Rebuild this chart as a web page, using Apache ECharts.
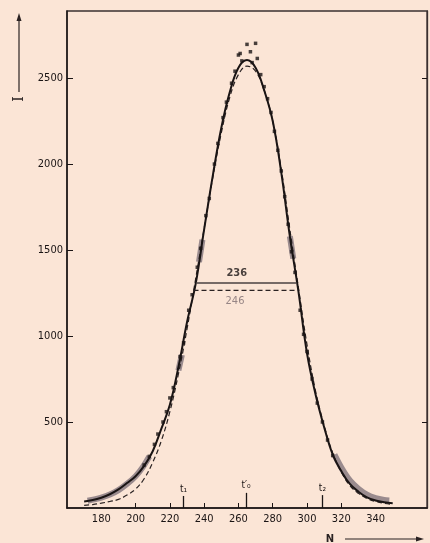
<html>
<head>
<meta charset="utf-8">
<script src="https://cdn.jsdelivr.net/npm/echarts@6/dist/echarts.min.js"></script>
<style>
  html, body { margin: 0; padding: 0; background: #fbe5d6; }
</style>
</head>
<body>
<div id="main" style="width: 430px; height: 543px;"></div>
<script type="text/javascript">
// channel numbers for the fit curves
var fitN = [170, 175, 180, 185, 190, 195, 200, 205, 210, 215, 220, 225, 230, 235, 240, 245, 250, 255, 260, 265,
            270, 275, 280, 285, 290, 295, 300, 305, 310, 315, 320, 325, 330, 335, 340, 345, 350];
// solid fit
var solidI = [38, 46, 60, 80, 108, 145, 185, 245, 330, 460, 600, 820, 1080, 1300, 1620, 1930, 2210, 2420, 2560, 2605,
              2560, 2430, 2250, 1950, 1580, 1260, 900, 660, 470, 310, 215, 140, 95, 62, 44, 34, 28];
// dashed fit
var dashedI = [15, 20, 28, 38, 50, 75, 110, 170, 265, 390, 560, 780, 1040, 1330, 1625, 1920, 2180, 2390, 2520, 2570,
               2540, 2430, 2250, 1970, 1620, 1280, 950, 680, 480, 320, 210, 130, 85, 55, 38, 27, 20];

// measured points (N, I)
var pointsN = [205, 208, 211, 213, 216, 218, 220, 222, 226, 228, 231, 233, 236, 238, 241, 243, 246, 248, 251, 253,
               256, 258, 260, 261, 262, 265, 267, 270, 271, 268, 273, 275, 277, 279, 281, 283, 285, 287, 289, 291,
               293, 296, 298, 300, 303, 306, 309, 312, 315];
var pointsI = [250, 300, 370, 430, 500, 560, 640, 700, 880, 960, 1150, 1240, 1400, 1510, 1700, 1800, 2000, 2120, 2270, 2360,
               2470, 2540, 2634, 2643, 2600, 2696, 2653, 2702, 2614, 2590, 2520, 2450, 2380, 2300, 2190, 2080, 1960, 1810, 1650, 1490,
               1370, 1150, 1010, 910, 750, 610, 500, 395, 305];

// grey smear along the tails and a few flank spots (null breaks segments)
var smearN = [172, 176, 180, 185, 190, 195, 200, 204, 208, null, 225, 227, null, 237, 239, null, 290, 292, null,
              316, 320, 325, 330, 335, 340, 345, 348];
var smearI = [42, 50, 60, 78, 104, 140, 185, 235, 300, null, 800, 890, null, 1430, 1560, null, 1580, 1450, null,
              310, 235, 160, 112, 78, 58, 47, 44];

// half-width lines
var halfSolidN = [235.3, 294], halfSolidI = 1308;
var halfDashedN = [233.8, 294.6], halfDashedI = 1265;
var halfLabels = ['236', '246'];
var halfLabelN = [259, 258];
var halfLabelI = [1365, 1205];

// channel markers on the axis
var markN = [228, 264.5, 309];
var markH = [70, 88, 75];
var markText = ['t\u2081', 't\u2032\u2080', 't\u2082'];

// tick labels
var xLabels = [180, 200, 220, 240, 260, 280, 300, 320, 340];
var xTicks = [200, 220, 240, 260, 280, 300, 320];
var yLabels = [500, 1000, 1500, 2000, 2500];

function pairs(xs, ys) {
    var out = [];
    for (var i = 0; i < xs.length; i++) {
        out.push(xs[i] === null ? [null, null] : [xs[i], ys[i]]);
    }
    return out;
}

var ink = '#1a1414';
var font = 'DejaVu Sans Condensed, DejaVu Sans, sans-serif';

var myChart = echarts.init(document.getElementById('main'));

var markLines = [];
for (var i = 0; i < markN.length; i++) {
    markLines.push([
        { coord: [markN[i], 0] },
        { coord: [markN[i], markH[i]], label: { formatter: markText[i] } }
    ]);
}

myChart.setOption({
    backgroundColor: '#fbe5d6',
    animation: false,
    grid: { left: 67, right: 3, top: 11, bottom: 35, show: true, borderColor: '#3a3030', borderWidth: 1.3 },
    xAxis: {
        type: 'value', min: 160, max: 370,
        axisLine: { lineStyle: { color: ink, width: 1.5 } },
        axisTick: { inside: true, length: 5, customValues: xTicks, lineStyle: { color: ink } },
        axisLabel: { customValues: xLabels, color: ink, fontSize: 11, fontFamily: font, margin: 6,
                     formatter: function (v) { return String(v); } },
        splitLine: { show: false }
    },
    yAxis: [{
        type: 'value', min: 0, max: 2890,
        axisLine: { show: true, lineStyle: { color: ink, width: 1.5 } },
        axisTick: { show: true, inside: true, length: 6, customValues: yLabels, lineStyle: { color: ink } },
        axisLabel: { customValues: yLabels, color: ink, fontSize: 11, fontFamily: font, margin: 4,
                     formatter: function (v) { return String(v); } },
        splitLine: { show: false }
    }, {
        type: 'value', min: 0, max: 2890, position: 'right',
        axisLine: { show: true, lineStyle: { color: '#3a3030', width: 1.3 } },
        axisTick: { show: true, inside: true, length: 5, customValues: [500, 2500], lineStyle: { color: ink } },
        axisLabel: { show: false },
        splitLine: { show: false }
    }],
    series: [
        {
            type: 'line', data: pairs(smearN, smearI), symbol: 'none', connectNulls: false, smooth: 0.3,
            lineStyle: { color: '#8f8186', width: 6, opacity: 0.9 }, z: 1
        },
        {
            type: 'line', data: pairs(fitN, dashedI), symbol: 'none', smooth: 0.4,
            lineStyle: { color: '#2a2222', width: 1.2, type: [5, 3] }, z: 2
        },
        {
            type: 'line', data: pairs(fitN, solidI), symbol: 'none', smooth: 0.4,
            lineStyle: { color: ink, width: 2 }, z: 3
        },
        {
            type: 'scatter', data: pairs(pointsN, pointsI), symbol: 'rect', symbolSize: 3.5,
            itemStyle: { color: ink }, z: 4
        },
        {
            type: 'line', data: [[halfSolidN[0], halfSolidI], [halfSolidN[1], halfSolidI]], symbol: 'none',
            lineStyle: { color: '#4a4040', width: 1.4 }, z: 3
        },
        {
            type: 'line', data: [[halfDashedN[0], halfDashedI], [halfDashedN[1], halfDashedI]], symbol: 'none',
            lineStyle: { color: '#2a2222', width: 1.2, type: [5, 3] }, z: 3
        },
        {
            type: 'scatter', symbolSize: 0, z: 5,
            data: [
                { value: [halfLabelN[0], halfLabelI[0]], label: { formatter: halfLabels[0], color: ink, fontWeight: 'bold' } },
                { value: [halfLabelN[1], halfLabelI[1]], label: { formatter: halfLabels[1], color: '#7d6d70' } }
            ],
            label: { show: true, position: 'inside', fontSize: 11, fontFamily: font }
        },
        {
            type: 'line', data: [], symbol: 'none',
            markLine: {
                silent: true, symbol: 'none', animation: false,
                lineStyle: { color: ink, width: 1.3, type: 'solid' },
                label: { show: true, position: 'end', color: ink, fontSize: 10, fontFamily: font, distance: 2 },
                data: markLines
            }
        }
    ],
    graphic: [
        { type: 'line', shape: { x1: 19, y1: 92, x2: 19, y2: 20 }, style: { stroke: '#2a2222', lineWidth: 1.2 } },
        { type: 'polygon', shape: { points: [[19, 13], [16.5, 21], [21.5, 21]] }, style: { fill: '#2a2222' } },
        { type: 'text', x: 19, y: 99, rotation: Math.PI / 2, style: { text: 'I', font: '14px DejaVu Serif', fill: '#2a2222', align: 'center', verticalAlign: 'middle' } },
        { type: 'text', x: 330, y: 539, style: { text: 'N', font: 'bold 10px DejaVu Sans', fill: '#2a2222', align: 'center', verticalAlign: 'middle' } },
        { type: 'line', shape: { x1: 345, y1: 539, x2: 418, y2: 539 }, style: { stroke: '#2a2222', lineWidth: 1.1 } },
        { type: 'polygon', shape: { points: [[424, 539], [416, 536.5], [416, 541.5]] }, style: { fill: '#2a2222' } }
    ]
});
</script>
</body>
</html>
